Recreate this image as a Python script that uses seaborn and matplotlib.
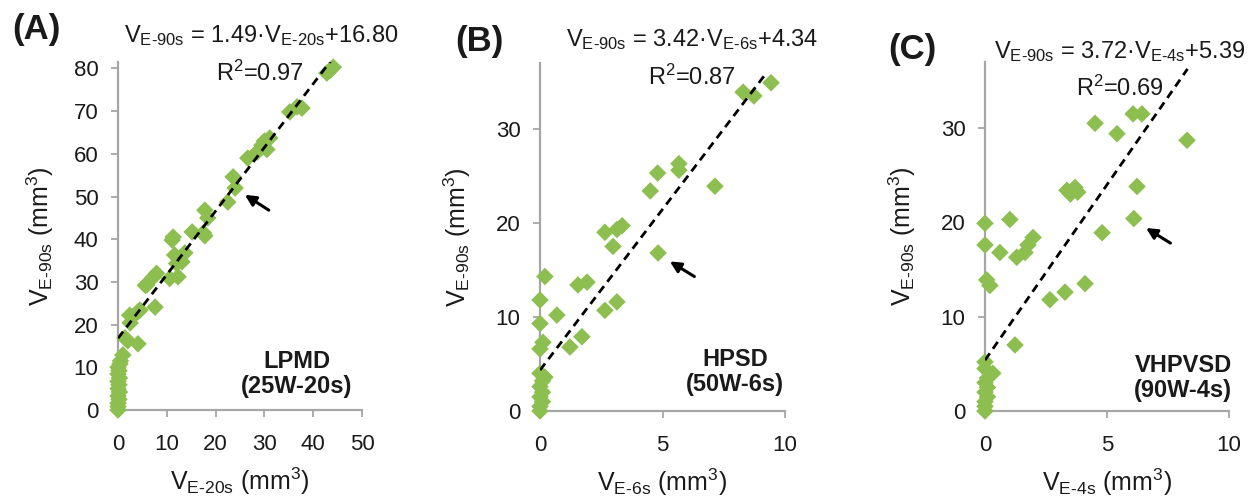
import matplotlib
matplotlib.use("Agg")
import matplotlib.pyplot as plt
import seaborn as sns

# Panel A: LPMD (25W-20s)
a_x = [0, 0, 0, 0.2, 0, 0.3, 0, 0.2, 0, 0.3, 0, 0.2, 0, 0.4, 0.5,
       1.0, 1.4, 2.0, 4.1, 2.5, 2.9, 2.4, 4.1, 4.5, 7.6, 5.9, 5.6, 7.2, 7.9,
       10.6, 12.3, 12.0, 13.1, 11.6, 13.7, 11.1, 11.3, 15.2, 17.8, 17.5,
       18.4, 17.8, 22.5, 24.0, 23.6, 26.6, 28.5, 29.5, 30.0, 31.1, 30.5,
       35.2, 36.7, 37.7, 42.8, 43.5, 44.1]
a_y = [0, 0.8, 1.6, 2.5, 3.3, 4.2, 5.0, 5.9, 6.7, 7.5, 8.4, 9.2, 10.0, 10.8, 11.5,
       12.9, 16.9, 16.2, 15.5, 20.4, 21.8, 22.2, 23.0, 23.4, 24.1, 29.3, 29.2, 31.1, 32.0,
       30.8, 31.2, 34.3, 34.7, 36.3, 36.8, 39.8, 40.5, 41.7, 40.8, 41.5,
       45.0, 46.8, 48.7, 52.0, 54.6, 59.0, 60.4, 62.0, 63.0, 63.7, 61.0,
       69.8, 71.0, 70.7, 78.9, 79.6, 80.3]

# Panel B: HPSD (50W-6s)
b_x = [0, 0, 0.1, 0, 0.1, 0, 0.1, 0.2, 0,
       0, 0.12, 1.22, 1.71, 0, 0.69, 0, 2.65, 3.14, 0.2, 1.55, 1.92,
       4.82, 2.98, 2.65, 3.14, 3.35, 4.5, 4.8, 5.67, 5.67, 7.14,
       8.29, 8.73, 9.43]
b_y = [0, 0.5, 1.0, 1.5, 2.0, 2.6, 3.2, 3.6, 4.0,
       6.6, 7.3, 6.8, 7.9, 9.3, 10.2, 11.8, 10.7, 11.6, 14.3, 13.4, 13.7,
       16.8, 17.5, 19.0, 19.3, 19.7, 23.4, 25.3, 25.6, 26.3, 23.9,
       33.9, 33.5, 34.9]

# Panel C: VHPVSD (90W-4s)
c_x = [0, 0, 0, 0.1, 0, 0.1, 0, 0.1, 0.32, 0, 0,
       1.23, 2.66, 3.28, 4.1, 0.2, 0.07, 0.61, 1.3, 1.64, 1.76, 1.97,
       0, 0, 1.02, 4.8, 6.1, 6.23, 3.36, 3.69, 3.5, 3.8,
       4.51, 5.41, 6.07, 6.43, 8.28]
c_y = [0, 0.5, 1.0, 1.5, 2.0, 2.5, 3.0, 3.5, 4.0, 4.5, 5.2,
       7.0, 11.8, 12.6, 13.5, 13.3, 13.9, 16.8, 16.3, 16.8, 17.6, 18.4,
       17.6, 19.9, 20.3, 18.9, 20.4, 23.8, 23.4, 23.7, 23.0, 23.2,
       30.5, 29.4, 31.5, 31.5, 28.7]

# Linear fits (slope, intercept, R^2) and the x-span of each trend line
fits = [(1.49, 16.80, 0.97), (3.42, 4.34, 0.87), (3.72, 5.39, 0.69)]
fit_span = [(0, 44.0), (0, 9.2), (0, 8.3)]

panel_tags = ["(A)", "(B)", "(C)"]
x_subs = ["E-20s", "E-6s", "E-4s"]
x_ticks = [[0, 10, 20, 30, 40, 50], [0, 5, 10], [0, 5, 10]]
y_ticks = [[0, 10, 20, 30, 40, 50, 60, 70, 80], [0, 10, 20, 30], [0, 10, 20, 30]]
x_lims = [(0, 50), (0, 10), (0, 10)]
y_lims = [(0, 81.5), (0, 37), (0, 37)]
modes = ["LPMD\n(25W-20s)", "HPSD\n(50W-6s)", "VHPVSD\n(90W-4s)"]
# arrow (head, tail) in data coordinates
arrows = [((26.0, 50.4), (30.9, 46.8)),
          ((5.3, 15.9), (6.3, 14.3)),
          ((6.6, 19.4), (7.6, 17.8))]

sns.set_style("white")
plt.rcParams["font.family"] = ["Liberation Sans", "DejaVu Sans"]
plt.rcParams["mathtext.fontset"] = "custom"
plt.rcParams["mathtext.rm"] = "Liberation Sans"
plt.rcParams["mathtext.it"] = "Liberation Sans:italic"
plt.rcParams["mathtext.bf"] = "Liberation Sans:bold"

GREEN = "#8cbf4f"
GRAY = "#a6a6a6"
INK = "#1a1a1a"
W, H = 1256, 497

fig = plt.figure(figsize=(W / 100, H / 100), dpi=100)

# axes boxes in pixels: left, right, top, bottom
boxes = [(118, 362, 62, 410), (540, 785, 63, 411), (985, 1229, 62, 411)]

xs = [a_x, b_x, c_x]
ys = [a_y, b_y, c_y]

def sub(s):
    return r"$\mathregular{V_{" + s.replace("-", r"\text{-}") + r"}}$"

tag_pos = [(36, 30), (479, 42), (912, 50)]
eq_pos = [(261, 36), (692, 40), (1120, 52)]
r2_pos = [(260, 73), (692, 77), (1120, 88)]
mode_pos = [(297, 374), (735, 372), (1183, 378)]
ylabel_pad = [13, 16, 16]

for i in range(3):
    l, r, t, b = boxes[i]
    ax = fig.add_axes([l / W, 1 - b / H, (r - l) / W, (b - t) / H])
    sns.scatterplot(x=xs[i], y=ys[i], ax=ax, marker="D", s=80, color=GREEN,
                    edgecolor="none", linewidth=0, clip_on=False, zorder=3)
    m, c0, r2 = fits[i]
    x0, x1 = fit_span[i]
    sns.lineplot(x=[x0, x1], y=[m * x0 + c0, m * x1 + c0], ax=ax,
                 color="black", linestyle=(0, (3.0, 2.0)), linewidth=2.0, zorder=4)

    ax.set_xlim(*x_lims[i])
    ax.set_ylim(*y_lims[i])
    ax.set_xticks(x_ticks[i])
    ax.set_yticks(y_ticks[i])
    for side in ("top", "right"):
        ax.spines[side].set_visible(False)
    for side in ("left", "bottom"):
        ax.spines[side].set_color(GRAY)
        ax.spines[side].set_linewidth(1.6)
    ax.tick_params(axis="both", direction="out", length=5, width=1.3,
                   color=GRAY, labelsize=16, labelcolor=INK)
    ax.tick_params(axis="y", pad=9, left=True)
    ax.tick_params(axis="x", pad=12, bottom=True)

    ax.set_xlabel(sub(x_subs[i]) + r" (mm$^{3}$)", fontsize=18, labelpad=8, color=INK)
    ax.set_ylabel(sub("E-90s") + r" (mm$^{3}$)", fontsize=18, labelpad=ylabel_pad[i], color=INK)

    (hx, hy), (tx, ty) = arrows[i]
    ax.annotate("", xy=(hx, hy), xytext=(tx, ty),
                arrowprops=dict(arrowstyle="-|>", color="black", lw=2.2,
                                mutation_scale=16, shrinkA=0, shrinkB=0))

    fig.text(tag_pos[i][0] / W, 1 - tag_pos[i][1] / H, panel_tags[i],
             fontsize=25, fontweight="bold", ha="center", va="center", color=INK)
    fig.text(eq_pos[i][0] / W, 1 - eq_pos[i][1] / H,
             sub("E-90s") + " = %.2f·" % m + sub(x_subs[i]) + "+%.2f" % c0,
             fontsize=17, ha="center", va="center", color=INK)
    fig.text(r2_pos[i][0] / W, 1 - r2_pos[i][1] / H,
             r"R$^{2}$=%.2f" % r2, fontsize=17, ha="center", va="center", color=INK)
    fig.text(mode_pos[i][0] / W, 1 - mode_pos[i][1] / H, modes[i],
             fontsize=17, fontweight="bold", ha="center", va="center",
             linespacing=1.1, color=INK)

fig.savefig("out.png", dpi=100)
